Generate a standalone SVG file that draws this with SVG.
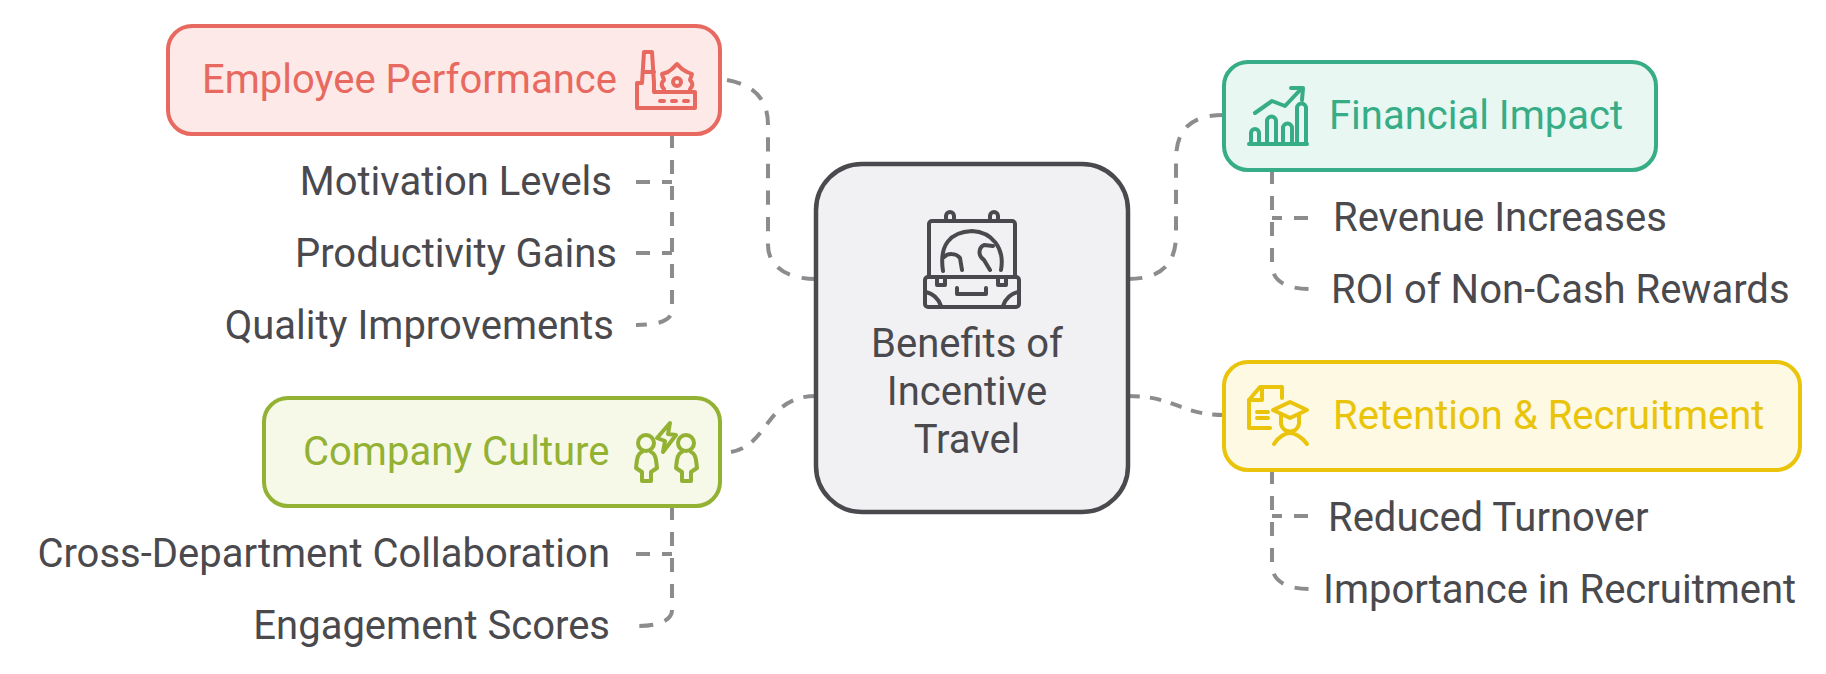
<svg xmlns="http://www.w3.org/2000/svg" width="1826" height="674" viewBox="0 0 1826 674">
<style>
text{font-family:Roboto,"Liberation Sans",sans-serif;font-size:40px;fill:#4a494d}
.box{stroke-width:4}
.ic{fill:none;stroke-width:4;stroke-linecap:round;stroke-linejoin:round}
.c{fill:none;stroke:#8c8c8e;stroke-width:4;stroke-dasharray:14 12;stroke-linecap:butt}
.e{text-anchor:end}
</style>
<rect width="1826" height="674" fill="#fff"/>
<g id="connectors">
<path class="c" pathLength="248" d="M727 80C755 85 768 100 768 125V245C768 265 785 279 816 279"/>
<path class="c" pathLength="222" d="M1224 115C1190 115 1176 130 1176 160V235C1176 265 1160 279 1128 279"/>
<path class="c" pathLength="118" d="M1128 396C1175 396 1180 415 1224 415"/>
<path class="c" pathLength="118" d="M731 452C770 445 765 396 816 396"/>
<path class="c" d="M672 134V310C672 320 660 325 636 325"/>
<path class="c" d="M636 182H672"/>
<path class="c" d="M636 253H672"/>
<path class="c" d="M672 506V610C672 620 660 626 636 626"/>
<path class="c" d="M636 554H672"/>
<path class="c" d="M1272 170V265C1272 280 1285 289 1310 289"/>
<path class="c" d="M1308 218H1272"/>
<path class="c" d="M1272 470V565C1272 580 1285 589 1310 589"/>
<path class="c" d="M1308 516H1272"/>
</g>
<g id="center">
<rect x="816" y="164" width="312" height="348" rx="46" fill="#f1f0f3" stroke="#4a494d" stroke-width="4.5"/>
<g class="ic" stroke="#4a494d">
<path d="M929 277V224a3 3 0 0 1 3-3H1012a3 3 0 0 1 3 3V277"/>
<rect x="925" y="277" width="94" height="30" rx="3"/>
<path d="M946 221V216a4 4 0 0 1 8 0V221M990 221V216a4 4 0 0 1 8 0V221"/>
<path d="M943 271C939 245 950 232 972 231C992 232 1005 248 1001 270"/>
<path d="M944 257C948 253 956 253 960 258L962 270M984 245C978 248 978 256 984 260L990 270M984 245L993 246"/>
<path d="M937 279V285H945V279M998 279V285H1006V279"/>
<path d="M957 288V294H986V288"/>
<path d="M926 292C934 294 939 300 941 306M1018 292C1010 294 1005 300 1003 306"/>
</g>
<text x="967" y="357" text-anchor="middle">Benefits of</text>
<text x="967" y="405" text-anchor="middle">Incentive</text>
<text x="967" y="453" text-anchor="middle">Travel</text>
</g>
<g id="employee-performance">
<rect class="box" x="168" y="26" width="552" height="108" rx="24" fill="#fde9e7" stroke="#e8695f"/>
<text x="202" y="93" style="fill:#e8695f">Employee Performance</text>
<g class="ic" stroke="#e8695f">
<path d="M637 108V83H642L644 52H652L654 83V92H695V108Z"/>
<path d="M643 72H654"/>
<path d="M664 89C660 85 662 82 664 80L662 74L668 72L672 69L677 64L682 69L687 72L692 74L690 80C692 82 694 85 690 89"/>
<circle cx="677" cy="82" r="4"/>
<path d="M660 101H664M672 101H676M684 101H688"/>
</g>
</g>
<g id="financial-impact">
<rect class="box" x="1224" y="62" width="432" height="108" rx="24" fill="#e8f7f2" stroke="#36ad86"/>
<text x="1329" y="129" style="fill:#36ad86">Financial Impact</text>
<g class="ic" stroke="#36ad86">
<path d="M1249 144H1307"/>
<path d="M1251 143V133a4 4 0 0 1 8 0V143M1267 143V121a4 4 0 0 1 9 0V143M1283 143V128a4 4 0 0 1 9 0V143M1297 143V108a4 4 0 0 1 9 0V143"/>
<path d="M1255 113L1272 101L1285 106L1302 88M1291 88H1303L1302 100"/>
</g>
</g>
<g id="retention-recruitment">
<rect class="box" x="1224" y="362" width="576" height="108" rx="24" fill="#fef9e3" stroke="#e9c40a"/>
<text x="1333" y="429" style="fill:#e9c40a">Retention &amp; Recruitment</text>
<g class="ic" stroke="#e9c40a">
<path d="M1270 428H1249V400L1260 387H1282V398"/>
<path d="M1249 400H1262V388"/>
<path d="M1257 412H1268M1257 418H1268"/>
<path d="M1273 410L1290 402L1307 410L1290 418ZM1281 414V424C1283 434 1297 434 1299 424V414"/>
<path d="M1274 444C1279 436 1286 433 1290 433C1294 433 1301 436 1307 444"/>
</g>
</g>
<g id="company-culture">
<rect class="box" x="264" y="398" width="456" height="108" rx="24" fill="#f6f8e8" stroke="#93b132"/>
<text x="303" y="465" style="fill:#93b132">Company Culture</text>
<g class="ic" stroke="#93b132">
<circle cx="646" cy="443" r="8"/>
<circle cx="686" cy="443" r="8"/>
<path d="M642 452C637 454 637 460 636 468L642 472V481H651V472L657 468C656 460 656 454 651 452M682 452C677 454 677 460 676 468L682 472V481H691V472L697 468C696 460 696 454 691 452"/>
<path d="M670 423L668 434L676 435L663 452L665 441L657 438Z"/>
</g>
</g>
<g id="motivation-levels"><text class="e" x="612" y="195">Motivation Levels</text></g>
<g id="productivity-gains"><text class="e" x="617" y="267">Productivity Gains</text></g>
<g id="quality-improvements"><text class="e" x="614" y="339">Quality Improvements</text></g>
<g id="cross-department"><text class="e" x="610" y="567">Cross-Department Collaboration</text></g>
<g id="engagement-scores"><text class="e" x="610" y="639">Engagement Scores</text></g>
<g id="revenue-increases"><text x="1333" y="231">Revenue Increases</text></g>
<g id="roi"><text x="1331" y="303">ROI of Non-Cash Rewards</text></g>
<g id="reduced-turnover"><text x="1328" y="531">Reduced Turnover</text></g>
<g id="importance"><text x="1323" y="603">Importance in Recruitment</text></g>
</svg>
